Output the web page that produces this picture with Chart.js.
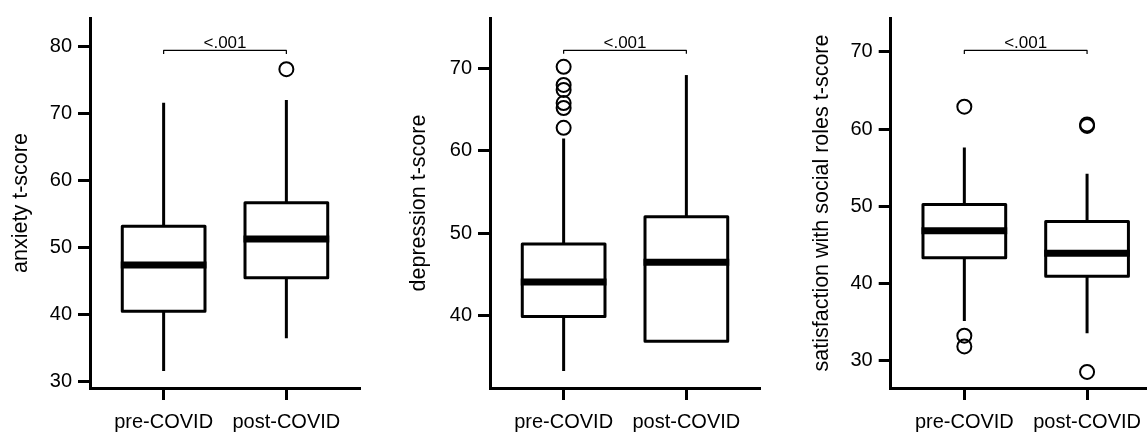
<!DOCTYPE html>
<html>
<head>
<meta charset="utf-8">
<script src="https://cdn.jsdelivr.net/npm/chart.js@4.4.0/dist/chart.umd.min.js"></script>
<style>
   html, body { margin: 0; padding: 0; background: #fff; overflow: hidden; }
   body { width: 1147px; height: 433px; position: relative; }
   canvas { position: absolute; top: 0; }
</style>
</head>
<body>
<canvas id="anxietyChart" width="375" height="433" style="left:0px"></canvas>
<canvas id="depressionChart" width="390" height="433" style="left:380px"></canvas>
<canvas id="socialChart" width="400" height="433" style="left:770px"></canvas>
<script>
// Data (t-scores)
const groups = ["pre-COVID", "post-COVID"];
const pLabel = "<.001";

// anxiety
const anxietyLow = [31.6, 36.5];
const anxietyQ1 = [40.5, 45.5];
const anxietyMedian = [47.4, 51.3];
const anxietyQ3 = [53.2, 56.7];
const anxietyHigh = [71.6, 72.0];
const anxietyOutliers = [[], [76.6]];
const anxietyTicks = [30, 40, 50, 60, 70, 80];
const anxietyRange = [29.07, 84.23];
const anxietyBracket = 79.4;

// depression
const depressionLow = [33.3, 36.9];
const depressionQ1 = [39.9, 36.9];
const depressionMedian = [44.1, 46.5];
const depressionQ3 = [48.7, 52.0];
const depressionHigh = [61.5, 69.2];
const depressionOutliers = [[70.2, 68.0, 67.4, 65.8, 65.2, 62.8], []];
const depressionTicks = [40, 50, 60, 70];
const depressionRange = [31.24, 76.12];
const depressionBracket = 72.2;

// satisfaction with social roles
const socialLow = [35.1, 33.5];
const socialQ1 = [43.3, 40.9];
const socialMedian = [46.8, 43.9];
const socialQ3 = [50.2, 48.0];
const socialHigh = [57.6, 54.2];
const socialOutliers = [[62.9, 33.2, 31.8], [60.4, 60.6, 28.5]];
const socialTicks = [30, 40, 50, 60, 70];
const socialRange = [26.41, 74.4];
const socialBracket = 70.2;

const FONT = "'Liberation Sans', Arial, Helvetica, sans-serif";
const BOX_HALF = 0.337; // half box width in x units

function boxPlugin(low, q1, median, q3, high, bracket) {
   return {
      id: "boxes",
      beforeDatasetsDraw(chart) {
         const ctx = chart.ctx;
         const x = chart.scales.x;
         const y = chart.scales.y;
         ctx.save();
         ctx.strokeStyle = "#000";
         ctx.lineCap = "butt";
         for (let i = 0; i < median.length; i++) {
            const cx = x.getPixelForValue(i + 1);
            const left = x.getPixelForValue(i + 1 - BOX_HALF);
            const right = x.getPixelForValue(i + 1 + BOX_HALF);
            const top = y.getPixelForValue(q3[i]);
            const bottom = y.getPixelForValue(q1[i]);

            // whiskers
            ctx.lineWidth = 3;
            ctx.beginPath();
            ctx.moveTo(cx, y.getPixelForValue(high[i]));
            ctx.lineTo(cx, top);
            ctx.moveTo(cx, bottom);
            ctx.lineTo(cx, y.getPixelForValue(low[i]));
            ctx.stroke();

            // box
            ctx.fillStyle = "#fff";
            ctx.fillRect(left, top, right - left, bottom - top);
            ctx.lineJoin = "round";
            ctx.strokeRect(left, top, right - left, bottom - top);

            // median
            ctx.lineWidth = 7;
            ctx.beginPath();
            ctx.moveTo(left - 1.5, y.getPixelForValue(median[i]));
            ctx.lineTo(right + 1.5, y.getPixelForValue(median[i]));
            ctx.stroke();
         }

         // significance bracket
         const by = y.getPixelForValue(bracket);
         const x1 = x.getPixelForValue(1);
         const x2 = x.getPixelForValue(2);
         ctx.lineWidth = 1.2;
         ctx.beginPath();
         ctx.moveTo(x1, by + 3.5);
         ctx.lineTo(x1, by);
         ctx.lineTo(x2, by);
         ctx.lineTo(x2, by + 3.5);
         ctx.stroke();
         ctx.fillStyle = "#000";
         ctx.font = "17px " + FONT;
         ctx.textAlign = "center";
         ctx.textBaseline = "alphabetic";
         ctx.fillText(pLabel, (x1 + x2) / 2, by - 2.5);
         ctx.restore();
      },
   };
}

function outlierPoints(outliers) {
   const pts = [];
   outliers.forEach((list, i) => {
      list.forEach((v) => pts.push({ x: i + 1, y: v }));
   });
   return pts;
}

function makeChart(id, opts) {
   const ctx = document.getElementById(id).getContext("2d");
   return new Chart(ctx, {
      type: "scatter",
      data: {
         datasets: [
            {
               data: outlierPoints(opts.outliers),
               pointStyle: "circle",
               pointRadius: 7,
               pointHoverRadius: 7,
               borderWidth: 2,
               borderColor: "#000",
               backgroundColor: "rgba(0,0,0,0)",
            },
         ],
      },
      options: {
         responsive: false,
         animation: false,
         events: [],
         layout: { padding: { top: 14, left: 0, right: opts.padRight, bottom: 0 } },
         plugins: { legend: { display: false }, tooltip: { enabled: false } },
         scales: {
            x: {
               type: "linear",
               bounds: "data",
               min: 0.4,
               max: 2.6,
               afterBuildTicks: (s) => {
                  s.ticks = groups.map((g, i) => ({ value: i + 1 }));
               },
               afterFit: (s) => {
                  s.height = 45;
               },
               ticks: {
                  callback: (v, i) => groups[i],
                  color: "#000",
                  font: { family: FONT, size: 20 },
                  padding: 10,
                  maxRotation: 0,
                  autoSkip: false,
               },
               grid: { display: true, drawOnChartArea: false, drawTicks: true, tickLength: 12, tickWidth: 3, tickColor: "#000" },
               border: { display: true, color: "#000", width: 3 },
            },
            y: {
               type: "linear",
               bounds: "data",
               min: opts.range[0],
               max: opts.range[1],
               afterBuildTicks: (s) => {
                  s.ticks = opts.ticks.map((v) => ({ value: v }));
               },
               afterFit: (s) => {
                  s.width = opts.axisWidth;
               },
               title: {
                  display: true,
                  text: opts.title,
                  color: "#000",
                  font: { family: FONT, size: 21.5 },
                  padding: { top: opts.titlePad, bottom: 0 },
               },
               ticks: {
                  color: "#000",
                  font: { family: FONT, size: 20 },
                  padding: 6,
               },
               grid: { display: true, drawOnChartArea: false, drawTicks: true, tickLength: 12, tickWidth: 3, tickColor: "#000" },
               border: { display: true, color: "#000", width: 3 },
            },
         },
      },
      plugins: [opts.plugin],
   });
}

makeChart("anxietyChart", {
   title: "anxiety t-score",
   outliers: anxietyOutliers,
   ticks: anxietyTicks,
   range: anxietyRange,
   axisWidth: 90,
   titlePad: 8,
   padRight: 15,
   plugin: boxPlugin(anxietyLow, anxietyQ1, anxietyMedian, anxietyQ3, anxietyHigh, anxietyBracket),
});

makeChart("depressionChart", {
   title: "depression t-score",
   outliers: depressionOutliers,
   ticks: depressionTicks,
   range: depressionRange,
   axisWidth: 110,
   titlePad: 26,
   padRight: 10,
   plugin: boxPlugin(depressionLow, depressionQ1, depressionMedian, depressionQ3, depressionHigh, depressionBracket),
});

makeChart("socialChart", {
   title: "satisfaction with social roles t-score",
   outliers: socialOutliers,
   ticks: socialTicks,
   range: socialRange,
   axisWidth: 120.7,
   titlePad: 39,
   padRight: 9.3,
   plugin: boxPlugin(socialLow, socialQ1, socialMedian, socialQ3, socialHigh, socialBracket),
});
</script>
</body>
</html>
